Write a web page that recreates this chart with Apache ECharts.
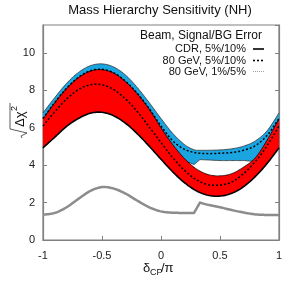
<!DOCTYPE html>
<html><head><meta charset="utf-8">
<script src="https://cdn.jsdelivr.net/npm/echarts@6/dist/echarts.min.js"></script>
<style>html,body{margin:0;padding:0;background:#fff}#c{width:299px;height:281px}</style>
</head><body><div id="c"></div>
<script>
// delta_CP / pi sample points
const xs = [-1,-0.9,-0.8,-0.7,-0.6,-0.5,-0.4,-0.3,-0.2,-0.1,0,0.1,0.2,0.3,0.4,0.5,0.6,0.7,0.8,0.9,1];
// red band (CDR) lower / upper edges
const redLo = [4.93,5.5,6.08,6.5,6.78,6.83,6.64,6.24,5.68,5.02,4.32,3.64,3.06,2.63,2.39,2.35,2.5,2.85,3.4,4.1,4.93];
const redHi = [6.48,7.34,8.1,8.68,9.03,9.11,8.92,8.47,7.81,7.0,6.0,5.1,4.35,3.8,3.5,3.43,3.55,3.9,4.4,5.35,6.48];
// 80 GeV 5%/10% dashed edges
const dashLo = [6.1,6.86,7.54,8.04,8.3,8.3,8.04,7.54,6.86,6.05,5.21,4.4,3.72,3.22,2.96,2.94,3.1,3.55,4.2,5.05,6.1];
const dashHi = [6.5,7.36,8.12,8.7,9.05,9.13,8.94,8.49,7.83,7.03,6.1,5.3,4.85,4.66,4.62,4.64,4.68,4.8,5.05,5.6,6.5];
// blue band (80 GeV 1%/5%)
const xsBlue = [-1,-0.9,-0.8,-0.7,-0.6,-0.5,-0.4,-0.3,-0.2,-0.1,0,0.1,0.2,0.28,0.33,0.4,0.5,0.6,0.7,0.8,0.9,1];
const blueHi = [6.8,7.62,8.38,8.96,9.32,9.42,9.25,8.82,8.15,7.35,6.5,5.7,5.1,4.83,4.8,4.8,4.82,4.88,5.02,5.3,5.85,6.8];
const blueLo = [6.2,7.0,7.7,8.3,8.7,8.8,8.6,8.1,7.5,6.7,5.85,4.95,4.3,4.03,4.3,4.28,4.25,4.25,4.25,4.28,5.0,6.2];
// gray curve
const grayX = [-1,-0.9,-0.8,-0.7,-0.6,-0.5,-0.4,-0.3,-0.2,-0.1,0,0.1,0.2,0.28,0.33,0.4,0.5,0.6,0.7,0.8,0.9,1];
const grayY = [1.35,1.45,1.75,2.2,2.62,2.83,2.75,2.48,2.1,1.75,1.53,1.46,1.45,1.45,2.0,1.88,1.75,1.6,1.47,1.37,1.34,1.33];
// kink positions (non-smooth points)
const kinkX = [0.28, 0.33];
// axis ticks
const xTicks = [-1,-0.5,0,0.5,1];
const yTicks = [0,2,4,6,8,10];
const yMax = 11.5;
const titleText = 'Mass Hierarchy Sensitivity (NH)';
const legendTitle = 'Beam, Signal/BG Error';
const legendNames = ['CDR, 5%/10%','80 GeV, 5%/10%','80 GeV, 1%/5%'];

const FONT = 'Liberation Sans, Arial, sans-serif';

// Catmull-Rom smoothing in pixel space (rendering only)
function cr(p, steps) {
  const out = [];
  for (let i = 0; i < p.length - 1; i++) {
    const p0 = p[i-1] || p[i], p1 = p[i], p2 = p[i+1], p3 = p[i+2] || p[i+1];
    for (let s = 0; s < steps; s++) {
      const t = s / steps, t2 = t*t, t3 = t2*t;
      out.push([0,1].map(k => 0.5*((2*p1[k]) + (-p0[k]+p2[k])*t + (2*p0[k]-5*p1[k]+4*p2[k]-p3[k])*t2 + (-p0[k]+3*p1[k]-3*p2[k]+p3[k])*t3)));
    }
  }
  out.push(p[p.length-1]);
  return out;
}
function curve(api, xArr, yArr, corners) {
  const pix = xArr.map((x, i) => api.coord([x, yArr[i]]));
  const segs = []; let start = 0;
  for (let i = 1; i < xArr.length; i++) {
    if ((corners && corners.indexOf(xArr[i]) >= 0) || i === xArr.length - 1) { segs.push(pix.slice(start, i + 1)); start = i; }
  }
  let out = [];
  segs.forEach((s, k) => { const c = cr(s, 10); if (k > 0) c.shift(); out = out.concat(c); });
  return out;
}

function renderAll(params, api) {
  const bHi = curve(api, xsBlue, blueHi), bLo = curve(api, xsBlue, blueLo, kinkX);
  const rHi = curve(api, xs, redHi), rLo = curve(api, xs, redLo);
  const dHi = curve(api, xs, dashHi), dLo = curve(api, xs, dashLo);
  const g = curve(api, grayX, grayY, kinkX);
  const pl = (pts, style) => ({type:'polyline', shape:{points:pts}, style:Object.assign({fill:null, lineJoin:'round'}, style)});
  return {type:'group', children:[
    {type:'polygon', shape:{points: bHi.concat(bLo.slice().reverse())}, style:{fill:'#1ba5e0'}},
    pl(bHi, {stroke:'#333', lineWidth:0.8}),
    pl(bLo, {stroke:'#333', lineWidth:0.8}),
    {type:'polygon', shape:{points: rHi.concat(rLo.slice().reverse())}, style:{fill:'#ff0000'}},
    pl(rLo, {stroke:'#000', lineWidth:1.6}),
    pl(rHi, {stroke:'#000', lineWidth:0.8}),
    pl(dLo, {stroke:'#000', lineWidth:1.5, lineDash:[2,2]}),
    pl(dHi, {stroke:'#000', lineWidth:1.5, lineDash:[2,2]}),
    pl(g, {stroke:'#8c8c8c', lineWidth:2.5})
  ]};
}

const lx = 246, sx1 = 253, sx2 = 264;
const rowsY = [49, 60.5, 71.5];
const graphic = [
  {type:'text', x:160, y:10, style:{text:titleText, font:'13px '+FONT, fill:'#111', textAlign:'center', textVerticalAlign:'middle'}},
  {type:'text', x:262, y:36, style:{text:legendTitle, font:'12px '+FONT, fill:'#111', textAlign:'right', textVerticalAlign:'middle'}},
  ...legendNames.map((n, i) => ({type:'text', x:lx, y:rowsY[i], style:{text:n, font:'11px '+FONT, fill:'#111', textAlign:'right', textVerticalAlign:'middle'}})),
  {type:'line', shape:{x1:sx1, y1:rowsY[0], x2:sx2, y2:rowsY[0]}, style:{stroke:'#000', lineWidth:1.6}},
  {type:'line', shape:{x1:sx1, y1:rowsY[1], x2:sx2, y2:rowsY[1]}, style:{stroke:'#000', lineWidth:1.6, lineDash:[2,2]}},
  {type:'line', shape:{x1:sx1, y1:rowsY[2], x2:sx2, y2:rowsY[2]}, style:{stroke:'#888', lineWidth:0.8, lineDash:[1,1]}},
  // y axis label sqrt(Δχ²)
  {type:'group', x:20, y:118, rotation:Math.PI/2, children:[
    {type:'polyline', shape:{points:[[-20,2],[-18,1],[-15,7],[-11,-10],[15,-10]]}, style:{stroke:'#333', lineWidth:0.8, fill:null}},
    {type:'text', x:-9, y:0, style:{text:'Δχ', font:'13px '+FONT, fill:'#111', textVerticalAlign:'middle'}},
    {type:'text', x:7, y:-5, style:{text:'2', font:'9px '+FONT, fill:'#111', textVerticalAlign:'middle'}}
  ]},
  // x axis label δCP/π
  {type:'text', x:143, y:268, style:{text:'δ', font:'13px '+FONT, fill:'#111', textVerticalAlign:'middle'}},
  {type:'text', x:150, y:273, style:{text:'CP', font:'9px '+FONT, fill:'#111', textVerticalAlign:'middle'}},
  {type:'text', x:161, y:268, style:{text:'/π', font:'13px '+FONT, fill:'#111', textVerticalAlign:'middle'}}
];

const axisCommon = {
  axisLine:{show:true, onZero:false, lineStyle:{color:'#808080', width:1.2}},
  axisTick:{show:true, inside:true, length:4, lineStyle:{color:'#808080'}},
  splitLine:{show:false}
};
const chart = echarts.init(document.getElementById('c'), null, {renderer:'canvas'});
chart.setOption({
  animation:false,
  backgroundColor:'#fff',
  grid:{left:43, right:20, top:25, bottom:41, show:true, borderColor:'#808080', borderWidth:1.2, backgroundColor:'transparent'},
  xAxis:[{type:'value', min:xTicks[0], max:xTicks[xTicks.length-1], interval:0.5, ...axisCommon,
    axisLabel:{color:'#222', fontSize:11, fontFamily:FONT, margin:10, formatter: v => String(v)}}],
  yAxis:[
    {type:'value', min:yTicks[0], max:yMax, interval:2, ...axisCommon,
      axisLabel:{color:'#222', fontSize:11, fontFamily:FONT, margin:8, showMaxLabel:false}},
    {type:'value', position:'right', min:yTicks[0], max:yMax, interval:2, ...axisCommon,
      axisLabel:{show:false}}
  ],
  series:[{type:'custom', renderItem: renderAll, data:[[0, 0]], encode:{x:0, y:1}, silent:true, animation:false}],
  graphic
});
</script></body></html>
